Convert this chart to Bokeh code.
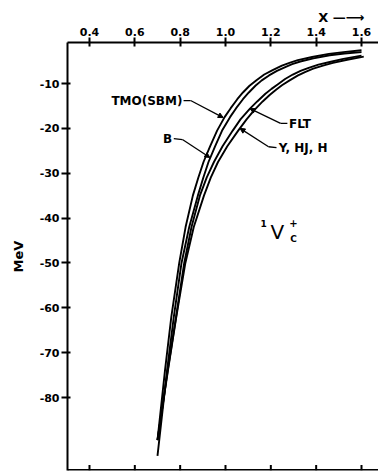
from bokeh.plotting import figure
from bokeh.models import FixedTicker, Label, Arrow, NormalHead, Range1d, Span, NumeralTickFormatter
from bokeh.embed import file_html
from bokeh.resources import INLINE

# ---- data (x, MeV) ----
tmo_y = [-89.5, -74, -62, -50, -42, -35, -31, -27.5, -24, -20.5, -17.5, -15.5, -13.5, -12.0, -10.5,
         -9.2, -8.0, -7.0, -6.0, -5.4, -4.8, -4.1, -3.4, -3.0, -2.6]
tmo_x = [0.700, 0.733, 0.761, 0.796, 0.824, 0.856, 0.880, 0.903, 0.932, 0.963, 0.996, 1.023, 1.052, 1.077, 1.106,
         1.138, 1.171, 1.208, 1.249, 1.282, 1.319, 1.382, 1.456, 1.520, 1.600]

b_y = [-93.0, -74, -62, -50, -42, -35, -31, -27.5, -24, -20.5, -17.5, -15.5, -13.5, -12.0, -10.5,
       -9.3, -8.2, -7.2, -6.3, -5.7, -5.1, -4.4, -3.7, -3.3, -3.0]
b_x = [0.700, 0.742, 0.772, 0.806, 0.840, 0.878, 0.902, 0.925, 0.954, 0.985, 1.020, 1.047, 1.077, 1.103, 1.132,
       1.160, 1.192, 1.227, 1.266, 1.294, 1.330, 1.388, 1.460, 1.525, 1.600]

flt_y = [-89.5, -74, -62, -50, -42, -35, -31, -27.5, -24, -20.5, -18, -15.6, -14, -12.3, -11.2,
         -10.2, -9.0, -8.0, -7.2, -6.5, -5.8, -5.2, -4.5, -3.8]
flt_x = [0.700, 0.745, 0.782, 0.818, 0.850, 0.887, 0.917, 0.949, 0.987, 1.032, 1.066, 1.108, 1.140, 1.176, 1.203,
         1.230, 1.263, 1.297, 1.331, 1.367, 1.410, 1.460, 1.520, 1.600]

yhj_y = [-89.5, -74, -62, -50, -42, -35, -31, -27.5, -24, -20.5, -18, -16, -14, -12.5, -11.4,
         -10.4, -9.3, -8.2, -7.4, -6.7, -6.0, -5.4, -4.7, -4.0]
yhj_x = [0.700, 0.746, 0.783, 0.823, 0.860, 0.905, 0.935, 0.967, 1.008, 1.056, 1.093, 1.126, 1.164, 1.196, 1.223,
         1.249, 1.283, 1.320, 1.353, 1.387, 1.430, 1.474, 1.537, 1.610]

x_ticks = [0.4, 0.6, 0.8, 1.0, 1.2, 1.4, 1.6]
y_ticks = [-80, -70, -60, -50, -40, -30, -20, -10]
y_tick_labels = {t: "-%d" % abs(t) for t in y_ticks}

X_LO, X_HI = 0.303, 1.675
Y_LO, Y_HI = -96.27, -0.86

FONT = "DejaVu Sans"

p = figure(width=378, height=474,
           x_range=Range1d(X_LO, X_HI), y_range=Range1d(Y_LO, Y_HI),
           output_backend="svg", toolbar_location=None, x_axis_location="above",
           y_axis_location="left",
           min_border_left=67, min_border_right=0, min_border_top=42, min_border_bottom=4)
p.grid.visible = False
p.outline_line_color = None
p.background_fill_color = "white"
p.border_fill_color = "white"

# title used as the "X ->" marker at top right
p.title.text = "X \u2014\u27f6"
p.title.align = "right"
p.title.offset = 14
p.title.standoff = 0
p.title.text_font = FONT
p.title.text_font_size = "13px"
p.title.text_font_style = "bold"
p.title.text_color = "black"

# top axis
ax = p.xaxis[0]
ax.ticker = FixedTicker(ticks=x_ticks)
ax.formatter = NumeralTickFormatter(format="0.0")
ax.minor_tick_line_color = None
ax.major_tick_in = 4
ax.major_tick_out = 5
ax.major_label_standoff = 2
ax.major_label_text_font = FONT
ax.major_label_text_font_size = "11px"
ax.major_label_text_font_style = "bold"
ax.major_label_text_color = "black"
ax.axis_line_width = 2
ax.major_tick_line_width = 2

# left axis
ay = p.yaxis[0]
ay.ticker = FixedTicker(ticks=y_ticks)
ay.major_label_overrides = y_tick_labels
ay.minor_tick_line_color = None
ay.major_tick_in = 3
ay.major_tick_out = 6
ay.major_label_standoff = 2
ay.major_label_text_font = FONT
ay.major_label_text_font_size = "11px"
ay.major_label_text_font_style = "bold"
ay.major_label_text_color = "black"
ay.axis_line_width = 2
ay.major_tick_line_width = 2
ay.axis_label = "MeV"
ay.axis_label_text_font = FONT
ay.axis_label_text_font_size = "13px"
ay.axis_label_text_font_style = "bold"
ay.axis_label_text_color = "black"
ay.axis_label_standoff = 11

# bottom frame line with inward ticks
p.add_layout(Span(location=Y_LO, dimension="width", line_color="black", line_width=3))
p.segment(x0=x_ticks, x1=x_ticks, y0=[Y_LO] * len(x_ticks), y1=[Y_LO + 1.2] * len(x_ticks),
          line_color="black", line_width=2)

# curves
for xs, ys in [(tmo_x, tmo_y), (b_x, b_y), (flt_x, flt_y), (yhj_x, yhj_y)]:
    p.line(xs, ys, line_color="black", line_width=1.9, line_join="round")

def lab(x, y, t, size="12px", align="left", style="bold"):
    p.add_layout(Label(x=x, y=y, text=t, text_font=FONT, text_font_size=size,
                       text_font_style=style, text_align=align, text_baseline="middle",
                       text_color="black"))

def leader(pts, tip):
    xs = [q[0] for q in pts]
    ys = [q[1] for q in pts]
    p.line(xs, ys, line_color="black", line_width=1.3)
    p.add_layout(Arrow(x_start=pts[-1][0], y_start=pts[-1][1], x_end=tip[0], y_end=tip[1],
                       line_width=1.3, line_color="black",
                       end=NormalHead(size=5, fill_color="black", line_color="black")))

lab(0.810, -13.8, "TMO(SBM)", align="right")
leader([(0.815, -13.8), (0.846, -13.8)], (0.99, -17.6))

lab(0.744, -22.4, "B", align="center")
leader([(0.772, -22.3), (0.81, -22.5)], (0.931, -26.5))

lab(1.28, -19.0, "FLT")
leader([(1.273, -18.9), (1.243, -18.9)], (1.108, -15.6))

lab(1.235, -24.4, "Y, HJ, H")
leader([(1.225, -24.3), (1.19, -24.1)], (1.064, -20.0))

# 1V_c+ label
lab(1.168, -41.2, "1", size="9px", align="center")
lab(1.229, -43.0, "V", size="20px", align="center", style="normal")
lab(1.30, -41.0, "+", size="10px", align="center")
lab(1.30, -44.6, "C", size="9px", align="center")

open("out.html", "w").write(file_html(p, INLINE))
